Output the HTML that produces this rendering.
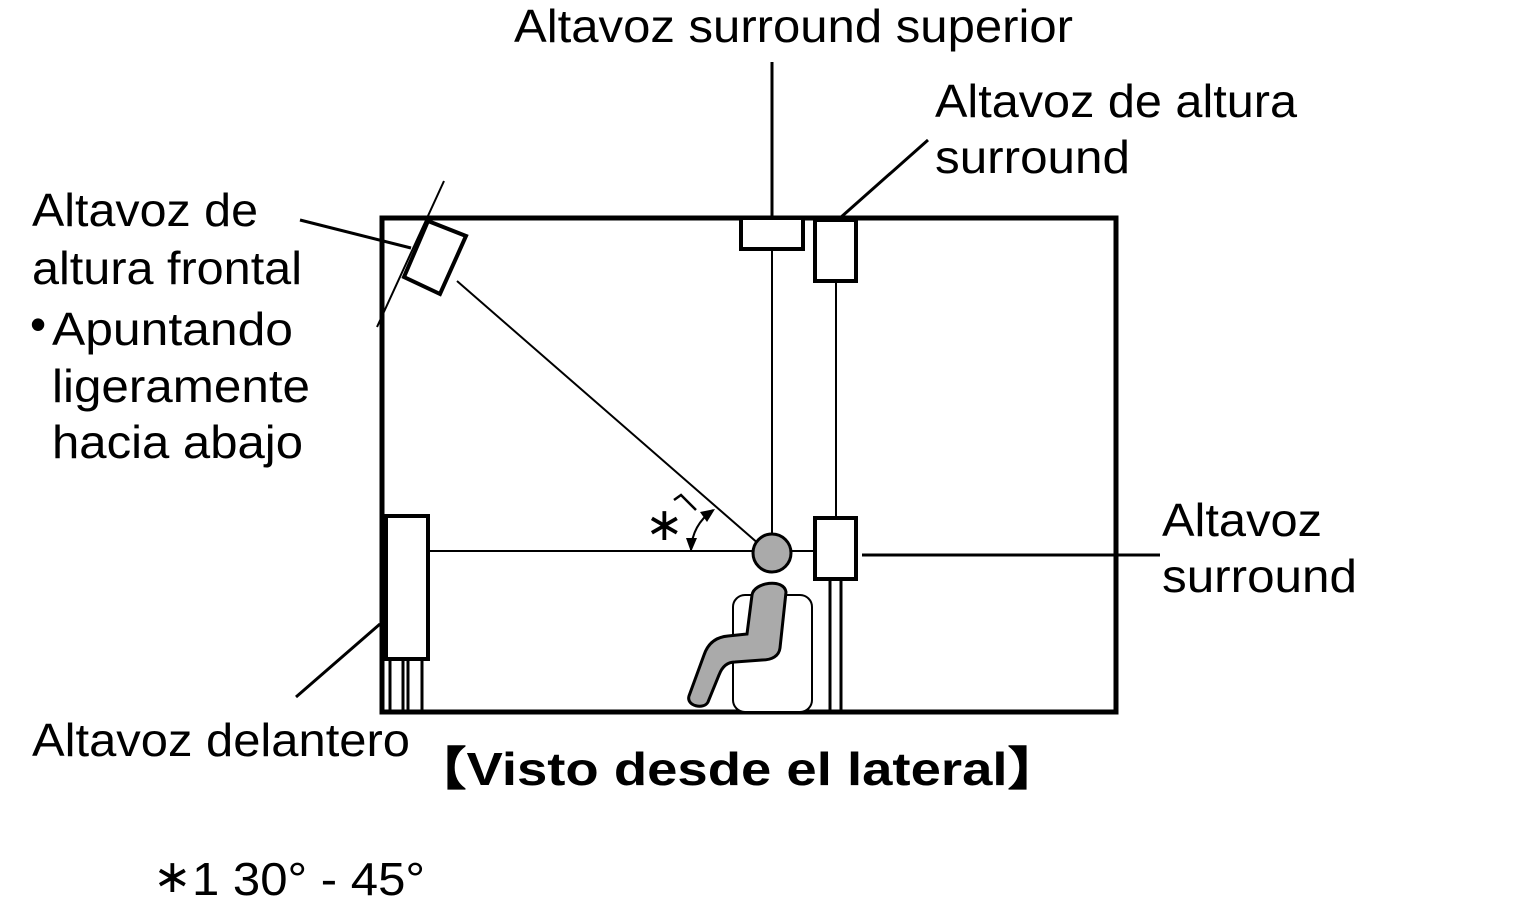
<!DOCTYPE html>
<html><head><style>
body{margin:0;background:#fff;width:1525px;height:923px;overflow:hidden}
svg{display:block}
text{font-family:"Liberation Sans",sans-serif;font-size:46px;fill:#000}
</style></head><body>
<svg width="1525" height="923" viewBox="0 0 1525 923">
<g fill="none" stroke="#000">
<rect x="382" y="218" width="734" height="494" stroke-width="5"/>
<line x1="300" y1="220" x2="411" y2="248" stroke-width="3"/>
<line x1="444" y1="181" x2="377" y2="327" stroke-width="2"/>
<polygon points="428,221 466,236 440,294 404,277" fill="#fff" stroke-width="4"/>
<line x1="457" y1="281" x2="760" y2="545" stroke-width="2"/>
<line x1="772" y1="62" x2="772" y2="218" stroke-width="3"/>
<rect x="741" y="218" width="62" height="31" fill="#fff" stroke-width="4"/>
<line x1="772" y1="249" x2="772" y2="535" stroke-width="2"/>
<line x1="840" y1="218" x2="928" y2="140" stroke-width="3"/>
<rect x="815" y="220" width="41" height="61" fill="#fff" stroke-width="4"/>
<line x1="836" y1="281" x2="836" y2="518" stroke-width="2"/>
<line x1="830" y1="579" x2="830" y2="712" stroke-width="3"/>
<line x1="841" y1="579" x2="841" y2="712" stroke-width="3"/>
<rect x="815" y="518" width="41" height="61" fill="#fff" stroke-width="4"/>
<line x1="862" y1="555" x2="1160" y2="555" stroke-width="3"/>
<line x1="430" y1="551" x2="753" y2="551" stroke-width="2"/>
<line x1="792" y1="551" x2="815" y2="551" stroke-width="2"/>
<rect x="386" y="516" width="42" height="143" fill="#fff" stroke-width="4"/>
<line x1="390" y1="659" x2="390" y2="712" stroke-width="3"/>
<line x1="403" y1="659" x2="403" y2="712" stroke-width="3"/>
<line x1="408" y1="659" x2="408" y2="712" stroke-width="3"/>
<line x1="422" y1="659" x2="422" y2="712" stroke-width="3"/>
<line x1="296" y1="697" x2="380" y2="624" stroke-width="3"/>
<rect x="733" y="595" width="79" height="117" rx="12" fill="#fff" stroke-width="2"/>
<path d="M752,595 C754,582 784,578 786,592 L780,648 C779,656 772,660 762,660 L735,662 C727,662 722,667 719,675 L708,702 C704,710 686,706 689,696 L704,655 C708,643 716,637 728,636 L747,634 Z" fill="#aaa" stroke-width="3"/>
<circle cx="772" cy="553" r="19" fill="#aaa" stroke-width="3"/>
<path d="M713,510 Q692,525 691,550" stroke-width="2"/>
<path d="M674,500 L681,495 L696,510" stroke-width="2.5"/>
</g>
<polygon points="715,509 700,512 707,522" fill="#000"/>
<polygon points="691,552 686,538 697,538" fill="#000"/>
<text x="514" y="42" textLength="559" lengthAdjust="spacingAndGlyphs">Altavoz surround superior</text>
<text x="935" y="117" textLength="362" lengthAdjust="spacingAndGlyphs">Altavoz de altura</text>
<text x="935" y="173" textLength="195" lengthAdjust="spacingAndGlyphs">surround</text>
<text x="32" y="226" textLength="226" lengthAdjust="spacingAndGlyphs">Altavoz de</text>
<text x="32" y="284" textLength="270" lengthAdjust="spacingAndGlyphs">altura frontal</text>
<text x="30" y="340" font-size="30">•</text>
<text x="52" y="345" textLength="241" lengthAdjust="spacingAndGlyphs">Apuntando</text>
<text x="52" y="402" textLength="258" lengthAdjust="spacingAndGlyphs">ligeramente</text>
<text x="52" y="458" textLength="251" lengthAdjust="spacingAndGlyphs">hacia abajo</text>
<text x="1162" y="536" textLength="160" lengthAdjust="spacingAndGlyphs">Altavoz</text>
<text x="1162" y="592" textLength="195" lengthAdjust="spacingAndGlyphs">surround</text>
<text x="32" y="756" textLength="378" lengthAdjust="spacingAndGlyphs">Altavoz delantero</text>
<text x="412" y="785" font-weight="bold" font-size="48" textLength="650" lengthAdjust="spacingAndGlyphs">【Visto desde el lateral】</text>
<text x="645" y="540" font-size="70" style="font-family:'DejaVu Sans',sans-serif">∗</text>
<text x="153" y="892" font-size="70" style="font-family:'DejaVu Sans',sans-serif">∗</text>
<text x="192" y="895" font-size="44" textLength="233" lengthAdjust="spacingAndGlyphs">1 30° - 45°</text>
</svg>
</body></html>
